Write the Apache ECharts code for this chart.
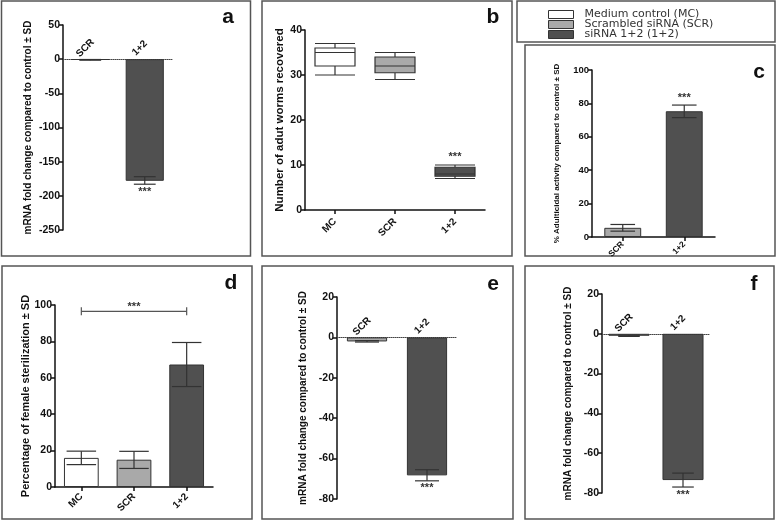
<!DOCTYPE html>
<html>
<head>
<meta charset="utf-8">
<script src="https://cdn.jsdelivr.net/npm/echarts@6/dist/echarts.min.js"></script>
<style>
  html, body { margin: 0; padding: 0; background: #fff; }
  #chart { width: 778px; height: 523px; }
</style>
</head>
<body>
<div id="chart"></div>
<script>
/* ---- data ---- */
const GROUPS = ['Medium control (MC)', 'Scrambled siRNA (SCR)', 'siRNA 1+2 (1+2)'];
const CATS_2 = ['SCR', '1+2'];
const CATS_3 = ['MC', 'SCR', '1+2'];
const STARS_2 = [false, true];

// a: mRNA fold change (mean, [low, high])
const A_MEAN = [-1, -178];
const A_ERR = [[-1.5, -0.5], [-183, -172]];
// b: adult worms recovered, [min, q1, median, q3, max]
const B_BOX = [[30, 32, 35, 36, 37], [29, 30.5, 32, 34, 35], [7, 7.5, 8, 9.5, 10]];
// c: % adulticidal activity
const C_MEAN = [5.5, 75.3];
const C_ERR = [[3.5, 7.5], [71.5, 79]];
// d: % female sterilization
const D_MEAN = [16, 15, 67.3];
const D_ERR = [[12.3, 19.7], [10.2, 19.6], [55.2, 79.4]];
const D_BRACKET = 96.5;
// e, f: mRNA fold change
const E_MEAN = [-2, -68.3];
const E_ERR = [[-2.3, -1.6], [-71, -65.5]];
const F_MEAN = [-1, -73.5];
const F_ERR = [[-1.3, -0.7], [-77, -70]];

const FILL = ['#ffffff', '#a9a9a9', '#505050'];
const FONT = '"Liberation Sans", Arial, sans-serif';
const INK = '#111';

/* ---- helpers ---- */
function yAx(gi, min, max, step, name, nameSize, nameGap, tickSize) {
  return {
    type: 'value', gridIndex: gi, min, max, interval: step,
    name, nameLocation: 'middle', nameGap, nameRotate: 90, nameMoveOverlap: false,
    nameTextStyle: { fontFamily: FONT, fontWeight: 'bold', fontSize: nameSize, color: INK },
    axisLine: { show: true, lineStyle: { color: INK, width: 1.5 } },
    axisTick: { show: true, length: 4, lineStyle: { color: INK, width: 1.5 } },
    axisLabel: { fontFamily: FONT, fontWeight: 'bold', fontSize: tickSize || 10.5, color: INK, margin: 3 },
    splitLine: { show: false }
  };
}

// dotted category axis on the zero line (panels a, e, f); labels drawn by catLabels
function xZero(gi) {
  return {
    type: 'category', gridIndex: gi, data: CATS_2,
    axisLine: { onZero: true, lineStyle: { color: '#444', width: 1, type: 'dotted' } },
    axisTick: { show: false },
    axisLabel: { show: false }
  };
}

function xBottom(gi, cats, size, margin) {
  return {
    type: 'category', gridIndex: gi, data: cats,
    axisLine: { lineStyle: { color: INK, width: 1.5 } },
    axisTick: { show: true, alignWithLabel: true, length: 4, lineStyle: { color: INK, width: 1.5 } },
    axisLabel: { rotate: 45, fontFamily: FONT, fontWeight: 'bold', fontSize: size, color: INK, margin }
  };
}

// rotated category names just above the zero line
function catLabels(gi, cats) {
  return {
    type: 'custom', xAxisIndex: gi, yAxisIndex: gi, z: 12, silent: true,
    data: cats.map((c, i) => [i, 0]),
    renderItem: (params, api) => {
      const p = api.coord([api.value(0), 0]);
      return {
        type: 'text', x: p[0] - 5, y: p[1] - 11, rotation: Math.PI / 4,
        style: { text: cats[params.dataIndex], font: 'bold 10px ' + FONT, fill: INK, align: 'center', verticalAlign: 'middle' }
      };
    }
  };
}

function barSeries(gi, means, width) {
  return {
    type: 'bar', xAxisIndex: gi, yAxisIndex: gi, barWidth: width, silent: true,
    data: means.map((v, i) => ({ value: v, itemStyle: { color: FILL[i + 1] } })),
    itemStyle: { borderColor: '#333', borderWidth: 1 }
  };
}

function starText(x, y, up) {
  return {
    type: 'text', x, y: up ? y - 2 : y + 2,
    style: { text: '***', fill: '#333', font: 'bold 11px ' + FONT, align: 'center', verticalAlign: up ? 'bottom' : 'top' }
  };
}

function errSeries(gi, err, stars, capFrac) {
  return {
    type: 'custom', xAxisIndex: gi, yAxisIndex: gi, z: 10, silent: true,
    data: err.map((e, i) => [i, e[0], e[1], stars[i] ? 1 : 0]),
    encode: { x: 0, y: [1, 2] },
    renderItem: (params, api) => {
      const i = api.value(0);
      const lo = api.coord([i, api.value(1)]);
      const hi = api.coord([i, api.value(2)]);
      const half = api.size([1, 0])[0] * capFrac;
      const st = { stroke: '#333', lineWidth: 1.2 };
      const kids = [
        { type: 'line', shape: { x1: lo[0], y1: lo[1], x2: hi[0], y2: hi[1] }, style: st },
        { type: 'line', shape: { x1: lo[0] - half, y1: lo[1], x2: lo[0] + half, y2: lo[1] }, style: st },
        { type: 'line', shape: { x1: hi[0] - half, y1: hi[1], x2: hi[0] + half, y2: hi[1] }, style: st }
      ];
      if (api.value(3)) {
        const up = api.value(2) > 0;
        kids.push(starText(lo[0], up ? hi[1] : lo[1], up));
      }
      return { type: 'group', children: kids };
    }
  };
}

/* ---- panel frames and letters ---- */
const frame = (x, y, w, h) => ({
  type: 'rect', shape: { x, y, width: w, height: h }, silent: true,
  style: { fill: 'none', stroke: '#555', lineWidth: 1.5 }
});
const letter = (t, x, y) => ({
  type: 'text', x, y, silent: true,
  style: { text: t, font: 'bold 21px ' + FONT, fill: '#111', align: 'center', verticalAlign: 'middle' }
});

const option = {
  animation: false,
  backgroundColor: '#fff',
  grid: [
    { left: 63, top: 25, width: 109, height: 205, outerBoundsMode: 'none' },
    { left: 305, top: 30, width: 180, height: 180, outerBoundsMode: 'none' },
    { left: 592, top: 70, width: 123, height: 167, outerBoundsMode: 'none' },
    { left: 55, top: 305, width: 158, height: 182, outerBoundsMode: 'none' },
    { left: 337, top: 297, width: 120, height: 202, outerBoundsMode: 'none' },
    { left: 602, top: 294, width: 108, height: 199, outerBoundsMode: 'none' }
  ],
  xAxis: [
    xZero(0),
    xBottom(1, CATS_3, 10, 10),
    xBottom(2, CATS_2, 8.5, 6),
    xBottom(3, CATS_3, 10, 8),
    xZero(4),
    xZero(5)
  ],
  yAxis: [
    yAx(0, -250, 50, 50, 'mRNA fold change compared to control ± SD', 10, 30),
    yAx(1, 0, 40, 10, 'Number of adut worms recovered', 11.5, 19),
    yAx(2, 0, 100, 20, '% Adulticidal activity compared to control ± SD', 8, 31, 9.5),
    yAx(3, 0, 100, 20, 'Percentage of female sterilization ± SD', 11, 24),
    yAx(4, -80, 20, 20, 'mRNA fold change compared to control ± SD', 10, 29),
    yAx(5, -80, 20, 20, 'mRNA fold change compared to control ± SD', 10, 29)
  ],
  legend: {
    data: GROUPS, orient: 'vertical', left: 543, top: 4,
    itemWidth: 25, itemHeight: 8, itemGap: -1, icon: 'rect', selectedMode: false,
    itemStyle: { borderColor: '#333', borderWidth: 1 },
    textStyle: { fontFamily: '"DejaVu Sans", sans-serif', fontSize: 11, color: '#333', padding: [0, 0, 0, 6] }
  },
  series: [
    // a
    barSeries(0, A_MEAN, '70%'),
    errSeries(0, A_ERR, STARS_2, 0.2),
    catLabels(0, CATS_2),
    // b
    {
      type: 'boxplot', xAxisIndex: 1, yAxisIndex: 1, boxWidth: [40, 40], silent: true,
      data: B_BOX.map((v, k) => ({ value: v, itemStyle: { color: FILL[k], borderColor: '#333', borderWidth: 1.2 } }))
    },
    {
      type: 'custom', xAxisIndex: 1, yAxisIndex: 1, z: 10, silent: true,
      data: [[2, B_BOX[2][4]]],
      renderItem: (params, api) => {
        const p = api.coord([api.value(0), api.value(1)]);
        return starText(p[0], p[1] - 1, true);
      }
    },
    // c
    barSeries(2, C_MEAN, '60%'),
    errSeries(2, C_ERR, STARS_2, 0.2),
    // d: one series per group so the legend picks them up
    ...GROUPS.map((name, k) => ({
      type: 'bar', name, xAxisIndex: 3, yAxisIndex: 3, barWidth: '66%', barGap: '-100%', silent: true,
      data: D_MEAN.map((v, i) => (i === k ? v : '-')),
      itemStyle: { color: FILL[k], borderColor: '#333', borderWidth: 1 }
    })),
    errSeries(3, D_ERR, [false, false, false], 0.28),
    {
      type: 'custom', xAxisIndex: 3, yAxisIndex: 3, z: 10, silent: true,
      data: [[0, 2, D_BRACKET]],
      renderItem: (params, api) => {
        const a = api.coord([api.value(0), api.value(2)]);
        const b = api.coord([api.value(1), api.value(2)]);
        const st = { stroke: '#555', lineWidth: 1.2 };
        return {
          type: 'group', children: [
            { type: 'line', shape: { x1: a[0], y1: a[1], x2: b[0], y2: b[1] }, style: st },
            { type: 'line', shape: { x1: a[0], y1: a[1] - 4, x2: a[0], y2: a[1] + 4 }, style: st },
            { type: 'line', shape: { x1: b[0], y1: b[1] - 4, x2: b[0], y2: b[1] + 4 }, style: st },
            starText((a[0] + b[0]) / 2, a[1] + 3, true)
          ]
        };
      }
    },
    // e
    barSeries(4, E_MEAN, '67%'),
    errSeries(4, E_ERR, STARS_2, 0.2),
    catLabels(4, CATS_2),
    // f
    barSeries(5, F_MEAN, '76%'),
    errSeries(5, F_ERR, STARS_2, 0.2),
    catLabels(5, CATS_2)
  ],
  graphic: [
    frame(1.5, 1, 249, 255),
    frame(262, 1, 250, 255),
    frame(517, 1, 258, 41),
    frame(525, 45, 250, 211),
    frame(2, 266, 250, 253),
    frame(262, 266, 251, 253),
    frame(525, 266, 249, 253),
    letter('a', 228, 17),
    letter('b', 493, 17),
    letter('c', 759, 72),
    letter('d', 231, 283),
    letter('e', 493, 284),
    letter('f', 754, 284)
  ]
};

const chart = echarts.init(document.getElementById('chart'), null, { renderer: 'canvas' });
chart.setOption(option);
</script>
</body>
</html>
